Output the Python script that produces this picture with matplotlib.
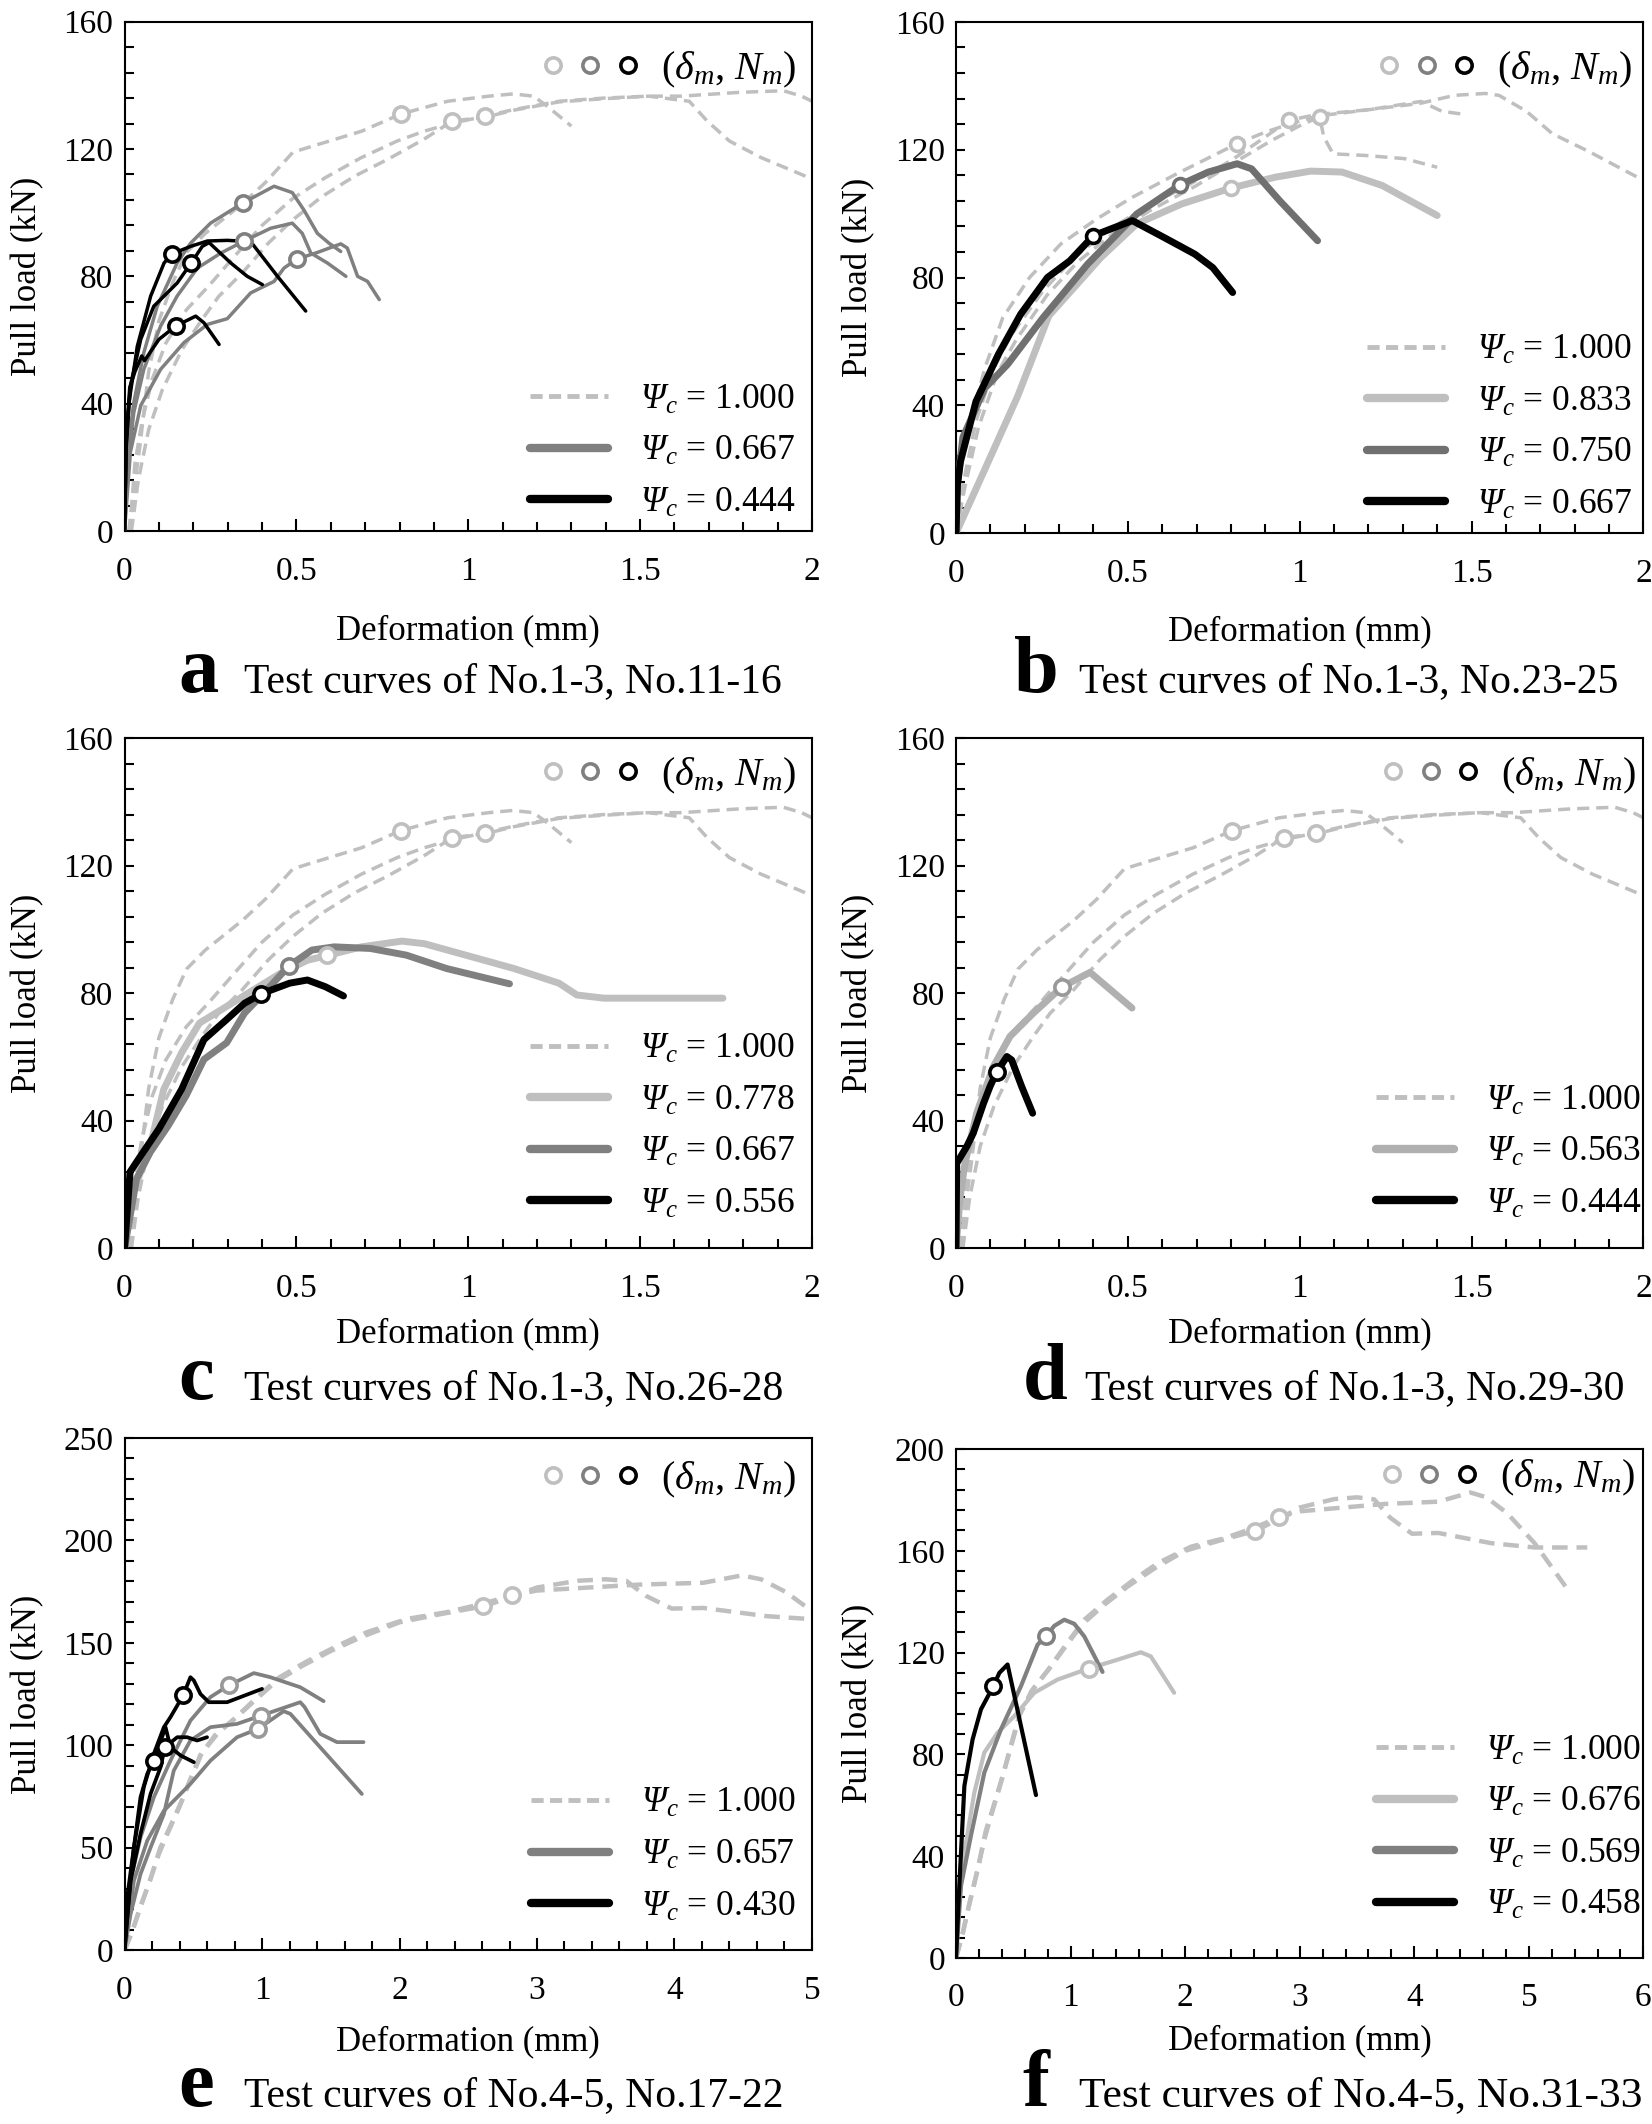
import matplotlib
matplotlib.use('Agg')
import matplotlib.pyplot as plt
from matplotlib.lines import Line2D
from matplotlib.legend_handler import HandlerTuple
from matplotlib.ticker import MultipleLocator, FuncFormatter

plt.rcParams['font.family'] = 'serif'
plt.rcParams['font.serif'] = ['Liberation Serif', 'DejaVu Serif']
# italic for every math glyph (capital Greek included)
plt.rcParams['mathtext.fontset'] = 'custom'
plt.rcParams['mathtext.rm'] = 'Liberation Serif:italic'
plt.rcParams['mathtext.it'] = 'Liberation Serif:italic'
plt.rcParams['mathtext.bf'] = 'Liberation Serif:bold'

LIGHT = '#bfbfbf'
MID = '#808080'
DARK = '#000000'

# ---- No.1-3 (Psi_c = 1.000), used in a, c, d ----
n1_x = [0.012, 0.03, 0.045, 0.07, 0.1, 0.14, 0.18, 0.235, 0.285, 0.345, 0.41, 0.49, 0.55, 0.69, 0.804, 0.94, 1.06, 1.13, 1.19, 1.23, 1.30]
n1_y = [0, 15, 27, 50, 66, 78, 87.5, 93.5, 97.8, 103, 109.5, 119, 121, 125.6, 131, 135, 136.6, 137.3, 136.6, 133.4, 127.2]
n2_x = [0.015, 0.03, 0.05, 0.08, 0.12, 0.18, 0.245, 0.32, 0.4, 0.49, 0.584, 0.689, 0.793, 0.872, 0.95, 1.048, 1.133, 1.264, 1.395, 1.525, 1.62, 1.79, 1.917, 1.97, 2.0]
n2_y = [0, 21, 34, 47.5, 59, 69.5, 77, 86.3, 96, 104.5, 111, 117.3, 122.5, 125.6, 128, 130.3, 132.4, 135, 136, 136.6, 136.6, 137.8, 138.3, 136.6, 135]
n3_x = [0.02, 0.04, 0.07, 0.11, 0.167, 0.225, 0.274, 0.342, 0.419, 0.49, 0.575, 0.67, 0.77, 0.87, 0.954, 1.05, 1.133, 1.264, 1.395, 1.525, 1.643, 1.695, 1.76, 1.852, 1.943, 2.0]
n3_y = [0, 16, 31.8, 44.4, 57, 66.4, 73.7, 81, 90.5, 97.8, 105.1, 111.5, 117, 123, 128.8, 130, 132.2, 134.8, 135.8, 136.6, 135, 128.8, 122.5, 117.3, 113.2, 110.6]
n13_dm = [0.804, 1.048, 0.954]
n13_Nm = [131.0, 130.3, 128.8]

# ---- panel a ----
a_g1_x = [0.0, 0.008, 0.027, 0.056, 0.095, 0.153, 0.192, 0.25, 0.345, 0.435, 0.488, 0.522, 0.561, 0.595, 0.629]
a_g1_y = [0, 24.8, 40.4, 56, 70.6, 84.2, 90.4, 96.7, 103.1, 108.3, 106.3, 100.8, 93.5, 90.4, 87.8]
a_g2_x = [0.0, 0.008, 0.027, 0.056, 0.105, 0.153, 0.212, 0.28, 0.348, 0.425, 0.488, 0.517, 0.542, 0.59, 0.644]
a_g2_y = [0, 19.6, 37.3, 50.8, 64.4, 73.8, 82.6, 87.3, 91.1, 95.1, 96.7, 93.5, 87.3, 84.2, 80]
a_g3_x = [0.0, 0.017, 0.047, 0.105, 0.173, 0.241, 0.299, 0.367, 0.435, 0.464, 0.501, 0.561, 0.629, 0.648, 0.678, 0.707, 0.741]
a_g3_y = [0, 24.8, 39.4, 50.8, 59.2, 64.9, 66.7, 74.8, 78.4, 82.6, 85.4, 87.5, 90.2, 88.9, 80, 78.4, 72.7]
a_g_dm = [0.345, 0.348, 0.501]
a_g_Nm = [103.1, 91.1, 85.4]
a_k1_x = [0.0, 0.004, 0.013, 0.037, 0.076, 0.115, 0.139, 0.192, 0.241, 0.299, 0.367, 0.445, 0.527]
a_k1_y = [0, 25, 40.4, 58, 73.8, 84.2, 87.1, 89.4, 91.1, 91.3, 90.9, 80, 69.1]
a_k2_x = [0.0, 0.005, 0.017, 0.047, 0.085, 0.153, 0.194, 0.226, 0.246, 0.309, 0.357, 0.401]
a_k2_y = [0, 28, 45.6, 60.2, 70.6, 77.9, 84.2, 89.4, 90.6, 84.2, 80, 77.4]
a_k3_x = [0.0, 0.005, 0.015, 0.03, 0.05, 0.058, 0.1, 0.149, 0.207, 0.231, 0.275]
a_k3_y = [0, 30, 45, 50, 55, 53.5, 60.2, 64.4, 67.5, 65.4, 58.6]
a_k_dm = [0.139, 0.194, 0.149]
a_k_Nm = [87.1, 84.2, 64.4]

# ---- panel b ----
b_n1_x = [0.0, 0.013, 0.045, 0.084, 0.136, 0.214, 0.305, 0.409, 0.513, 0.643, 0.818, 0.9, 0.97, 1.05, 1.2, 1.35, 1.45, 1.54, 1.58, 1.66, 1.735, 1.84, 2.0]
b_n1_y = [0, 20.3, 36, 51.7, 67.4, 80, 90.5, 98.3, 105.1, 112.5, 121.9, 125.5, 128, 130.5, 132.5, 134.5, 137, 137.6, 137, 132, 125, 119.5, 110.4]
b_n2_x = [0.0, 0.02, 0.058, 0.11, 0.162, 0.253, 0.344, 0.448, 0.552, 0.682, 0.8, 0.9, 0.968, 1.05, 1.2, 1.353, 1.414, 1.483]
b_n2_y = [0, 15, 35, 51.7, 62.2, 75.8, 86.3, 95.2, 102, 109.3, 116.6, 124, 129.2, 131, 132.5, 135.1, 132, 131]
b_n3_x = [0.0, 0.025, 0.065, 0.12, 0.175, 0.265, 0.355, 0.46, 0.565, 0.695, 0.81, 0.92, 1.0, 1.058, 1.07, 1.097, 1.19, 1.305, 1.40]
b_n3_y = [0, 14, 33, 50, 60.5, 74.5, 85, 94, 101, 108.5, 116, 123, 127.5, 130.3, 124, 118.7, 118.2, 117.2, 114.5]
b_n_dm = [0.818, 0.968, 1.058]
b_n_Nm = [121.9, 129.2, 130.3]
b_833_x = [0.0, 0.084, 0.18, 0.27, 0.344, 0.422, 0.526, 0.656, 0.8, 0.929, 1.032, 1.123, 1.24, 1.40]
b_833_y = [0, 20, 43, 68, 76.9, 86.3, 96.8, 103, 108, 111.4, 113.3, 113, 108.8, 99.4]
b_750_x = [0.0, 0.004, 0.02, 0.084, 0.15, 0.253, 0.383, 0.526, 0.652, 0.734, 0.818, 0.86, 0.942, 1.052]
b_750_y = [0, 15, 30, 45.4, 52.8, 67.4, 84.2, 99.9, 109, 113, 115.6, 114, 104, 91.5]
b_667_x = [0.0, 0.004, 0.013, 0.058, 0.123, 0.188, 0.266, 0.331, 0.4, 0.513, 0.604, 0.695, 0.747, 0.805]
b_667_y = [0, 15, 22.4, 41.2, 55.9, 68.5, 80, 85.2, 93.1, 97.8, 92.6, 87.3, 83.1, 75.3]
b_dm = [0.8, 0.652, 0.4]
b_Nm = [108.0, 109.0, 93.1]

# ---- panel c ----
c_778_x = [0.0, 0.022, 0.075, 0.114, 0.166, 0.218, 0.297, 0.375, 0.454, 0.532, 0.59, 0.689, 0.807, 0.872, 0.976, 1.133, 1.264, 1.316, 1.395, 1.741]
c_778_y = [0, 16.6, 32.2, 49.8, 61.3, 70.6, 75.8, 81, 86.2, 90.3, 91.8, 94.5, 96.3, 95.5, 92.4, 87.7, 83.1, 79.4, 78.4, 78.4]
c_667_x = [0.0, 0.035, 0.075, 0.127, 0.179, 0.231, 0.297, 0.349, 0.414, 0.478, 0.545, 0.61, 0.715, 0.82, 0.937, 1.12]
c_667_y = [0, 21.8, 30.1, 38.4, 47.8, 59.2, 64.4, 73.7, 81, 88.5, 93.5, 94.5, 94, 91.9, 87.7, 82.9]
c_556_x = [0.0, 0.016, 0.048, 0.1, 0.166, 0.231, 0.297, 0.349, 0.398, 0.48, 0.532, 0.584, 0.637]
c_556_y = [0, 23.9, 29.1, 37.4, 49.8, 65.4, 71.7, 76.8, 79.8, 83.1, 84.1, 82, 79.1]
c_dm = [0.59, 0.478, 0.398]
c_Nm = [91.8, 88.5, 79.8]

# ---- panel d ----
d_563_x = [0.0, 0.012, 0.026, 0.06, 0.109, 0.157, 0.225, 0.308, 0.39, 0.512]
d_563_y = [0, 16, 26.6, 42.3, 57, 66.4, 73.7, 81.9, 86.5, 75.3]
d_444_x = [0.0, 0.002, 0.031, 0.05, 0.08, 0.099, 0.118, 0.148, 0.162, 0.191, 0.223]
d_444_y = [0, 26.6, 31.8, 36, 45.4, 50.7, 55.1, 60.1, 59, 50.7, 42.3]
d_dm = [0.308, 0.118]
d_Nm = [81.9, 55.1]

# ---- No.4-5 (Psi_c = 1.000), used in e, f ----
n4_x = [0.0, 0.06, 0.12, 0.19, 0.26, 0.33, 0.41, 0.48, 0.56, 0.68, 0.82, 0.95, 1.1, 1.3, 1.5, 1.73, 2.0, 2.3, 2.61, 2.8, 3.0, 3.3, 3.5, 3.65, 3.79, 3.98, 4.21, 4.67, 5.05, 5.51]
n4_y = [0, 10, 22, 35, 50, 60, 72, 83, 96, 106, 114, 122, 131, 139, 146, 153, 160, 164, 167.8, 172, 177, 180.3, 181, 180.2, 173, 166.7, 167, 163, 161.3, 161.3]
n5_x = [0.0, 0.05, 0.11, 0.18, 0.25, 0.32, 0.4, 0.47, 0.55, 0.66, 0.8, 0.95, 1.12, 1.32, 1.55, 1.76, 2.05, 2.34, 2.6, 2.82, 3.0, 3.28, 3.74, 4.21, 4.49, 4.63, 4.81, 5.05, 5.35]
n5_y = [0, 8, 20, 33, 47, 58, 70, 82, 95, 105, 113, 122.5, 132.9, 140.7, 148.6, 155.1, 161.6, 164.9, 169, 173.2, 175.5, 176.6, 178.4, 179.3, 182.9, 181, 174.8, 163, 144.1]
n45_dm = [2.61, 2.82]
n45_Nm = [167.8, 173.2]

# ---- panel e ----
e_g1_x = [0.0, 0.044, 0.116, 0.213, 0.334, 0.479, 0.625, 0.758, 0.94, 1.06, 1.278, 1.448]
e_g1_y = [0, 33.9, 55, 74.6, 92.5, 112, 123.5, 129.2, 135.2, 133.2, 128.3, 121.5]
e_g2_x = [0.0, 0.044, 0.116, 0.19, 0.286, 0.358, 0.479, 0.625, 0.818, 0.995, 1.278, 1.31, 1.424, 1.545, 1.738]
e_g2_y = [0, 17.6, 37.1, 50.2, 66.4, 87.6, 102.3, 108.8, 110.4, 114.5, 121, 118.6, 105.5, 101.5, 101.5]
e_g3_x = [0.0, 0.068, 0.165, 0.286, 0.479, 0.625, 0.818, 0.971, 1.157, 1.206, 1.726]
e_g3_y = [0, 33.9, 53.4, 68, 81.1, 92.5, 103.9, 108, 116.6, 115.3, 76.2]
e_g_dm = [0.758, 0.995, 0.971]
e_g_Nm = [129.2, 114.5, 108.0]
e_k1_x = [0.0, 0.019, 0.068, 0.14, 0.213, 0.286, 0.334, 0.426, 0.479, 0.504, 0.552, 0.613, 0.746, 1.0]
e_k1_y = [0, 25.7, 50.2, 79.5, 95.8, 108.8, 113.7, 124.3, 133.2, 131.6, 125, 121, 121, 127.5]
e_k2_x = [0.0, 0.044, 0.116, 0.189, 0.262, 0.293, 0.383, 0.455, 0.528, 0.6]
e_k2_y = [0, 33.9, 56.7, 76.2, 89.3, 99, 103.9, 103.9, 102.3, 103.9]
e_k3_x = [0.0, 0.031, 0.068, 0.116, 0.165, 0.213, 0.298, 0.334, 0.407, 0.504]
e_k3_y = [0, 25.7, 50.2, 74.6, 86, 92.5, 108.8, 99, 95, 91.7]
e_k_dm = [0.426, 0.293, 0.213]
e_k_Nm = [124.3, 99.0, 92.5]

# ---- panel f ----
f_676_x = [0.0, 0.03, 0.073, 0.16, 0.247, 0.363, 0.509, 0.683, 0.887, 1.157, 1.41, 1.613, 1.7, 1.904]
f_676_y = [0, 25, 41.5, 65, 80.7, 88.5, 95, 104.2, 109.4, 113.7, 117.2, 120.1, 118.5, 104.2]
f_569_x = [0.0, 0.044, 0.13, 0.247, 0.392, 0.567, 0.712, 0.788, 0.858, 0.945, 1.032, 1.119, 1.279]
f_569_y = [0, 28.5, 48, 72.8, 89.8, 106.8, 123.1, 126.6, 130.5, 132.9, 131.3, 126.4, 112.4]
f_458_x = [0.0, 0.029, 0.073, 0.145, 0.218, 0.326, 0.378, 0.45, 0.567, 0.698]
f_458_y = [0, 28.5, 67.6, 85.9, 97.7, 106.8, 112, 115.3, 91.1, 64]
f_dm = [1.157, 0.788, 0.326]
f_Nm = [113.7, 126.6, 106.8]

captions = ['Test curves of No.1-3, No.11-16', 'Test curves of No.1-3, No.23-25',
            'Test curves of No.1-3, No.26-28', 'Test curves of No.1-3, No.29-30',
            'Test curves of No.4-5, No.17-22', 'Test curves of No.4-5, No.31-33']


def setup(ax, xmax, xmaj, xmin, ymax, ymaj, ymin, xpad=20):
    ax.set_xlim(0, xmax)
    ax.set_ylim(0, ymax)
    ax.xaxis.set_major_locator(MultipleLocator(xmaj))
    ax.xaxis.set_minor_locator(MultipleLocator(xmin))
    ax.yaxis.set_major_locator(MultipleLocator(ymaj))
    ax.yaxis.set_minor_locator(MultipleLocator(ymin))
    ax.xaxis.set_major_formatter(FuncFormatter(lambda v, p: f'{v:g}'))
    ax.yaxis.set_major_formatter(FuncFormatter(lambda v, p: f'{v:g}'))
    ax.tick_params(which='both', direction='in', top=False, right=False, width=1.5, labelsize=24)
    ax.tick_params(axis='x', which='major', length=9, pad=18)
    ax.tick_params(axis='x', which='minor', length=6.5)
    ax.tick_params(axis='y', which='both', length=6.5, pad=8)
    for s in ax.spines.values():
        s.set_linewidth(1.5)
    ax.set_xlabel('Deformation (mm)', fontsize=25, labelpad=xpad)
    ax.set_ylabel('Pull load (kN)', fontsize=25, labelpad=14)


def curve(ax, x, y, color, lw, dashed=False):
    if dashed:
        ax.plot(x, y, color=color, lw=lw, dashes=(3.5, 2.0), zorder=2)
    else:
        ax.plot(x, y, color=color, lw=lw, solid_capstyle='round', solid_joinstyle='round', zorder=3)


def peaks(ax, dm, Nm, color, ms=11):
    ax.plot(dm, Nm, ls='none', marker='o', ms=ms, mfc='white', mec=color, mew=2.6, zorder=5)


def legends(ax, labels, colors, bx, by, tx, ty):
    hs = []
    for i, c in enumerate(colors):
        if i == 0:
            hs.append(Line2D([], [], color=c, lw=3.5, dashes=(2.5, 1.3)))
        else:
            hs.append(Line2D([], [], color=c, lw=6, solid_capstyle='round'))
    lg = ax.legend(hs, [r'$\Psi_c$ = ' + s for s in labels], loc='lower right',
                   bbox_to_anchor=(bx, by), frameon=False, fontsize=25.5, handlelength=2.2,
                   handletextpad=0.9, labelspacing=0.52, borderpad=0, borderaxespad=0)
    ax.add_artist(lg)
    mk = tuple(Line2D([], [], ls='none', marker='o', ms=11, mfc='white', mec=c, mew=2.6)
               for c in (LIGHT, MID, DARK))
    ax.legend([mk], [r'($\delta_m$, $N_m$)'], loc='upper right', bbox_to_anchor=(tx, ty),
              handler_map={tuple: HandlerTuple(ndivide=None, pad=0)}, frameon=False,
              fontsize=29, handlelength=2.8, handletextpad=0.35, borderpad=0, borderaxespad=0)


fig = plt.figure(figsize=(16.52, 21.24), dpi=100)
ax_a = fig.add_axes([0.0754, 0.750, 0.4161, 0.2398])
ax_b = fig.add_axes([0.5787, 0.749, 0.4161, 0.2407])
ax_c = fig.add_axes([0.0754, 0.4124, 0.4161, 0.2401])
ax_d = fig.add_axes([0.5787, 0.4124, 0.4161, 0.2401])
ax_e = fig.add_axes([0.0754, 0.0819, 0.4161, 0.2411])
ax_f = fig.add_axes([0.5787, 0.0782, 0.4161, 0.2396])

# a
ax = ax_a
setup(ax, 2, 0.5, 0.1, 160, 40, 8, xpad=20)
for x, y in [(n1_x, n1_y), (n2_x, n2_y), (n3_x, n3_y)]:
    curve(ax, x, y, LIGHT, 2.5, dashed=True)
for x, y in [(a_g1_x, a_g1_y), (a_g2_x, a_g2_y), (a_g3_x, a_g3_y)]:
    curve(ax, x, y, MID, 2.5)
for x, y in [(a_k1_x, a_k1_y), (a_k2_x, a_k2_y), (a_k3_x, a_k3_y)]:
    curve(ax, x, y, DARK, 2.5)
peaks(ax, n13_dm, n13_Nm, LIGHT)
peaks(ax, a_g_dm, a_g_Nm, MID)
peaks(ax, a_k_dm, a_k_Nm, DARK)
legends(ax, ['1.000', '0.667', '0.444'], [LIGHT, MID, DARK], 0.976, 0.022, 0.977, 0.945)

# b
ax = ax_b
setup(ax, 2, 0.5, 0.1, 160, 40, 8, xpad=19)
for x, y in [(b_n1_x, b_n1_y), (b_n2_x, b_n2_y), (b_n3_x, b_n3_y)]:
    curve(ax, x, y, LIGHT, 2.5, dashed=True)
curve(ax, b_833_x, b_833_y, LIGHT, 5)
curve(ax, b_750_x, b_750_y, '#707070', 5)
curve(ax, b_667_x, b_667_y, DARK, 5)
peaks(ax, b_n_dm, b_n_Nm, LIGHT, ms=10)
peaks(ax, b_dm[:1], b_Nm[:1], LIGHT, ms=10)
peaks(ax, b_dm[1:2], b_Nm[1:2], '#707070', ms=10)
peaks(ax, b_dm[2:], b_Nm[2:], DARK, ms=10)
legends(ax, ['1.000', '0.833', '0.750', '0.667'], [LIGHT, LIGHT, '#707070', DARK],
        0.984, 0.022, 0.984, 0.945)

# c
ax = ax_c
setup(ax, 2, 0.5, 0.1, 160, 40, 8, xpad=10)
for x, y in [(n1_x, n1_y), (n2_x, n2_y), (n3_x, n3_y)]:
    curve(ax, x, y, LIGHT, 2.5, dashed=True)
curve(ax, c_778_x, c_778_y, LIGHT, 5)
curve(ax, c_667_x, c_667_y, MID, 5)
curve(ax, c_556_x, c_556_y, DARK, 5)
peaks(ax, n13_dm, n13_Nm, LIGHT)
peaks(ax, c_dm[:1], c_Nm[:1], LIGHT)
peaks(ax, c_dm[1:2], c_Nm[1:2], MID)
peaks(ax, c_dm[2:], c_Nm[2:], DARK)
legends(ax, ['1.000', '0.778', '0.667', '0.556'], [LIGHT, LIGHT, MID, DARK],
        0.976, 0.0535, 0.977, 0.966)

# d
ax = ax_d
setup(ax, 2, 0.5, 0.1, 160, 40, 8, xpad=10)
for x, y in [(n1_x, n1_y), (n2_x, n2_y), (n3_x, n3_y)]:
    curve(ax, x, y, LIGHT, 2.5, dashed=True)
curve(ax, d_563_x, d_563_y, '#b0b0b0', 5)
curve(ax, d_444_x, d_444_y, DARK, 5)
peaks(ax, n13_dm, n13_Nm, LIGHT)
peaks(ax, d_dm[:1], d_Nm[:1], '#999999')
peaks(ax, d_dm[1:], d_Nm[1:], DARK)
legends(ax, ['1.000', '0.563', '0.444'], [LIGHT, '#b0b0b0', DARK],
        0.997, 0.0535, 0.99, 0.966)

# e
ax = ax_e
setup(ax, 5, 1, 0.2, 250, 50, 10, xpad=14)
for x, y in [(n4_x, n4_y), (n5_x, n5_y)]:
    curve(ax, x, y, LIGHT, 3.2, dashed=True)
for x, y in [(e_g1_x, e_g1_y), (e_g2_x, e_g2_y), (e_g3_x, e_g3_y)]:
    curve(ax, x, y, MID, 2.7)
for x, y in [(e_k1_x, e_k1_y), (e_k2_x, e_k2_y), (e_k3_x, e_k3_y)]:
    curve(ax, x, y, DARK, 2.7)
peaks(ax, n45_dm, n45_Nm, LIGHT)
peaks(ax, e_g_dm, e_g_Nm, '#999999')
peaks(ax, e_k_dm, e_k_Nm, DARK)
legends(ax, ['1.000', '0.657', '0.430'], [LIGHT, MID, DARK], 0.976, 0.052, 0.977, 0.958)

# f
ax = ax_f
setup(ax, 6, 1, 0.2, 200, 40, 8, xpad=8)
for x, y in [(n4_x, n4_y), (n5_x, n5_y)]:
    curve(ax, x, y, LIGHT, 3.2, dashed=True)
curve(ax, f_676_x, f_676_y, LIGHT, 3)
curve(ax, f_569_x, f_569_y, MID, 3)
curve(ax, f_458_x, f_458_y, DARK, 3)
peaks(ax, n45_dm, n45_Nm, LIGHT)
peaks(ax, f_dm[:1], f_Nm[:1], LIGHT)
peaks(ax, f_dm[1:2], f_Nm[1:2], MID)
peaks(ax, f_dm[2:], f_Nm[2:], DARK)
legends(ax, ['1.000', '0.676', '0.569', '0.458'], [LIGHT, LIGHT, MID, DARK],
        0.997, 0.07, 0.988, 0.982)

# captions
cap_pos = [(0.108, 0.1477, 0.674, 30), (0.614, 0.653, 0.674, 30),
           (0.108, 0.1477, 0.3414, 30), (0.619, 0.657, 0.3414, 30),
           (0.108, 0.1477, 0.0085, 30), (0.619, 0.653, 0.0085, 31.3)]
for letter, text, (lx, tx, y, fs) in zip('abcdef', captions, cap_pos):
    fig.text(lx, y, letter, fontsize=58, fontweight='bold', va='baseline', ha='left')
    fig.text(tx, y, text, fontsize=fs, va='baseline', ha='left')

fig.savefig('out.png', dpi=100)
